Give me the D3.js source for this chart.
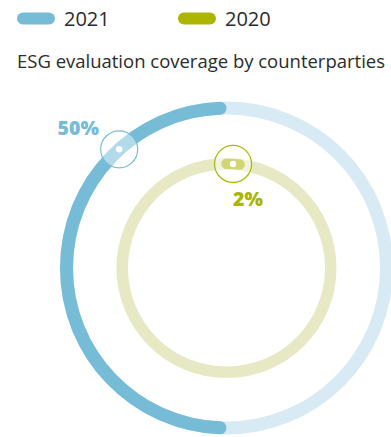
<!DOCTYPE html>
<html>
<head>
<meta charset="utf-8">
<script src="https://cdn.jsdelivr.net/npm/d3@7"></script>
<style>
  body { margin: 0; background: #fff; }
  svg { display: block; font-family: "Open Sans", sans-serif; }
</style>
</head>
<body>
<div id="chart"></div>
<script>
// data
const years = ["2021", "2020"];
const coverage = [50, 2];
const title = "ESG evaluation coverage by counterparties";
// where the marker bubble sits on each ring (percent along the ring)
const markerAt = [11.7, 1];

const darkColors = ["#76bcd7", "#abb502"];
const lightColors = ["#d8eaf3", "#e7e8c4"];
const direction = [-1, 1];   // 2021 runs anticlockwise, 2020 clockwise

const width = 391, height = 437;
const cx = 226.5, cy = 268;
const rings = [{ outer: 166.5, inner: 153.5 }, { outer: 110, inner: 98.5 }];

const svg = d3.select("#chart").append("svg")
  .attr("width", width)
  .attr("height", height);

// legend
const legend = svg.append("g");
const legendX = [17, 178];
years.forEach((y, i) => {
  legend.append("rect")
    .attr("x", legendX[i]).attr("y", 12.5)
    .attr("width", 38).attr("height", 12)
    .attr("rx", 6)
    .attr("fill", darkColors[i]);
  legend.append("text")
    .attr("x", legendX[i] + 47).attr("y", 26)
    .attr("font-size", 20)
    .attr("fill", "#2b2b2b")
    .text(y);
});

// title
svg.append("text")
  .attr("x", 17).attr("y", 68)
  .attr("font-size", 17.5)
  .attr("fill", "#2b2b2b")
  .attr("textLength", 368)
  .attr("lengthAdjust", "spacingAndGlyphs")
  .text(title);

const g = svg.append("g").attr("transform", `translate(${cx},${cy})`);

years.forEach((y, i) => {
  const r = rings[i];
  const thick = r.outer - r.inner;
  const mid = (r.outer + r.inner) / 2;
  const angle = d3.scaleLinear().domain([0, 100]).range([0, direction[i] * 2 * Math.PI]);
  const arc = d3.arc().innerRadius(r.inner).outerRadius(r.outer);

  // full background ring
  g.append("path")
    .attr("d", arc({ startAngle: 0, endAngle: 2 * Math.PI }))
    .attr("fill", lightColors[i]);

  // value arc with rounded ends
  const a0 = 0, a1 = angle(coverage[i]);
  if (Math.abs(a1 - a0) * mid > thick * 2) {
    g.append("path")
      .attr("d", arc.cornerRadius(thick / 2)({ startAngle: Math.min(a0, a1), endAngle: Math.max(a0, a1) }))
      .attr("fill", darkColors[i]);
  } else {
    // short arc: draw as a round-capped stroke so it reads as a pill
    const p = d3.path();
    p.arc(0, 0, mid, a0 - Math.PI / 2, a1 - Math.PI / 2, a1 < a0);
    g.append("path")
      .attr("d", p.toString())
      .attr("fill", "none")
      .attr("stroke", darkColors[i])
      .attr("stroke-width", thick - 1)
      .attr("stroke-linecap", "round");
  }

  // marker bubble
  const ma = angle(markerAt[i]);
  const mx = mid * Math.sin(ma), my = -mid * Math.cos(ma);
  g.append("circle")
    .attr("cx", mx).attr("cy", my).attr("r", 18.5)
    .attr("fill", "#fff").attr("fill-opacity", 0.45)
    .attr("stroke", darkColors[i]).attr("stroke-width", 1.2);
  g.append("circle")
    .attr("cx", mx).attr("cy", my).attr("r", 3.2)
    .attr("fill", "#fff");

  // value label
  const off = i === 0 ? [-41, -14] : [15, 42];
  g.append("text")
    .attr("x", mx + off[0]).attr("y", my + off[1])
    .attr("text-anchor", "middle")
    .attr("font-size", 19.5)
    .attr("font-weight", 800)
    .attr("fill", darkColors[i])
    .text(coverage[i] + "%");
});
</script>
</body>
</html>
